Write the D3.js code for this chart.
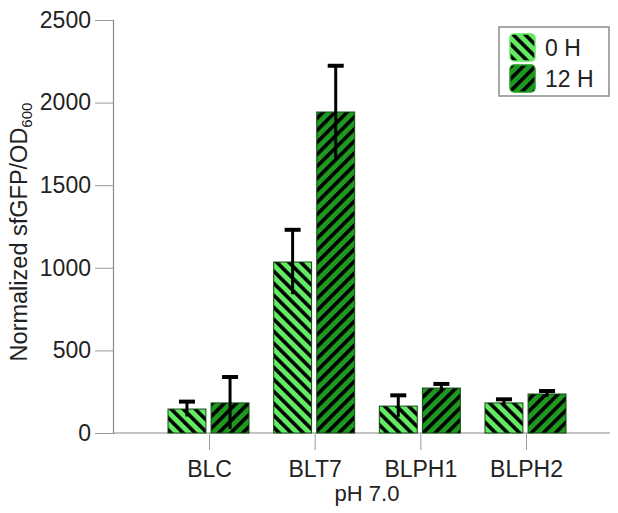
<!DOCTYPE html>
<html>
<head>
<meta charset="utf-8">
<script src="https://cdn.jsdelivr.net/npm/d3@7"></script>
<style>
  body { margin: 0; background: #fff; }
  text { font-family: "Liberation Sans", Arial, Helvetica, sans-serif; }
</style>
</head>
<body>
<div id="plot"></div>
<script>
// chart data
const strains = ["BLC", "BLT7", "BLPH1", "BLPH2"];
const times = ["0 H", "12 H"];
const mean0h = [145, 1035, 163, 182];
const err0h = [45, 195, 65, 22];
const mean12h = [182, 1943, 272, 236];
const err12h = [157, 280, 25, 18];
const yTicks = [0, 500, 1000, 1500, 2000, 2500];

const width = 618;
const height = 513;
const margin = { top: 20, right: 8, bottom: 80, left: 113 };

const rows = [];
strains.forEach((s, i) => {
    rows.push({ strain: s, time: times[0], value: mean0h[i], err: err0h[i] });
    rows.push({ strain: s, time: times[1], value: mean12h[i], err: err12h[i] });
});

const svg = d3.select("#plot")
    .append("svg")
    .attr("width", width)
    .attr("height", height);

// hatch patterns
const fills = { "0 H": "#62ea62", "12 H": "#1f981f" };
const defs = svg.append("defs");
times.forEach((t, i) => {
    const p = defs.append("pattern")
        .attr("id", "hatch" + i)
        .attr("patternUnits", "userSpaceOnUse")
        .attr("width", 8.5)
        .attr("height", 8.5)
        .attr("patternTransform", i === 0 ? "rotate(-45)" : "rotate(45)");
    p.append("rect").attr("width", 8.5).attr("height", 8.5).attr("fill", fills[t]);
    p.append("rect").attr("width", 3.6).attr("height", 8.5).attr("fill", "#000");
});

// scales
const x = d3.scalePoint()
    .domain(strains)
    .range([209, 526]);

const xInner = d3.scaleBand()
    .domain(times)
    .range([-41, 40])
    .paddingInner(0.12);

const y = d3.scaleLinear()
    .domain([0, 2500])
    .range([height - margin.bottom, margin.top]);

// y axis
const yAxis = svg.append("g")
    .attr("transform", `translate(${margin.left},0)`)
    .call(d3.axisLeft(y).tickValues(yTicks).tickFormat(d3.format("d")).tickSize(18).tickPadding(4));
yAxis.select(".domain").attr("stroke", "#8a8a8a").attr("stroke-width", 1.2);
yAxis.selectAll(".tick line").attr("stroke", "#9a9a9a");
yAxis.selectAll(".tick text")
    .attr("fill", "#222")
    .style("font-size", "23px")
    .style("font-family", "'Liberation Sans', Arial, sans-serif");

// x axis
const xAxis = svg.append("g")
    .attr("transform", `translate(0,${height - margin.bottom})`)
    .call(d3.axisBottom(x).tickSize(17).tickPadding(4).tickSizeOuter(0));
xAxis.select(".domain")
    .attr("d", `M${margin.left},0H${width - margin.right}`)
    .attr("stroke", "#8a8a8a").attr("stroke-width", 1.2);
xAxis.selectAll(".tick line").attr("stroke", "#9a9a9a");
xAxis.selectAll(".tick text")
    .attr("fill", "#222")
    .attr("dy", "1.0em")
    .style("font-size", "23px")
    .style("font-family", "'Liberation Sans', Arial, sans-serif");

svg.append("text")
    .attr("x", 367)
    .attr("y", 501)
    .attr("text-anchor", "middle")
    .attr("fill", "#222")
    .style("font-size", "22px")
    .text("pH 7.0");

// y label
const yl = svg.append("text")
    .attr("transform", "translate(27,232) rotate(-90)")
    .attr("text-anchor", "middle")
    .attr("fill", "#222")
    .style("font-size", "23.5px");
yl.append("tspan").text("Normalized sfGFP/OD");
yl.append("tspan").attr("dy", "0.3em").style("font-size", "15px").text("600");

// bars
svg.append("g")
    .selectAll("rect")
    .data(rows)
    .join("rect")
    .attr("x", (d) => x(d.strain) + xInner(d.time))
    .attr("y", (d) => y(d.value))
    .attr("width", xInner.bandwidth())
    .attr("height", (d) => y(0) - y(d.value))
    .attr("fill", (d) => `url(#hatch${times.indexOf(d.time)})`)
    .attr("stroke", "#144814")
    .attr("stroke-width", 1);

// error bars
const eb = svg.append("g")
    .selectAll("g")
    .data(rows)
    .join("g")
    .attr("transform", (d) => `translate(${x(d.strain) + xInner(d.time) + xInner.bandwidth() / 2},0)`);
eb.append("line")
    .attr("y1", (d) => y(d.value + d.err))
    .attr("y2", (d) => y(Math.max(d.value - d.err, 0)))
    .attr("stroke", "#000")
    .attr("stroke-width", 3);
eb.append("line")
    .attr("x1", -8).attr("x2", 8)
    .attr("y1", (d) => y(d.value + d.err))
    .attr("y2", (d) => y(d.value + d.err))
    .attr("stroke", "#000")
    .attr("stroke-width", 4);

// legend
const legend = svg.append("g").attr("transform", "translate(499,27)");
legend.append("rect")
    .attr("width", 110)
    .attr("height", 69)
    .attr("fill", "#fff")
    .attr("stroke", "#8a8a8a")
    .attr("stroke-width", 1.5);
const li = legend.selectAll("g.item")
    .data(times)
    .join("g")
    .attr("class", "item")
    .attr("transform", (d, i) => `translate(11,${7 + i * 31})`);
li.append("rect")
    .attr("width", 25)
    .attr("height", 27)
    .attr("rx", 4)
    .attr("fill", (d, i) => `url(#hatch${i})`)
    .attr("stroke", (d) => fills[d])
    .attr("stroke-width", 1.5);
li.append("text")
    .attr("x", 35)
    .attr("y", 22)
    .attr("fill", "#222")
    .style("font-size", "23px")
    .text((d) => d);
</script>
</body>
</html>
